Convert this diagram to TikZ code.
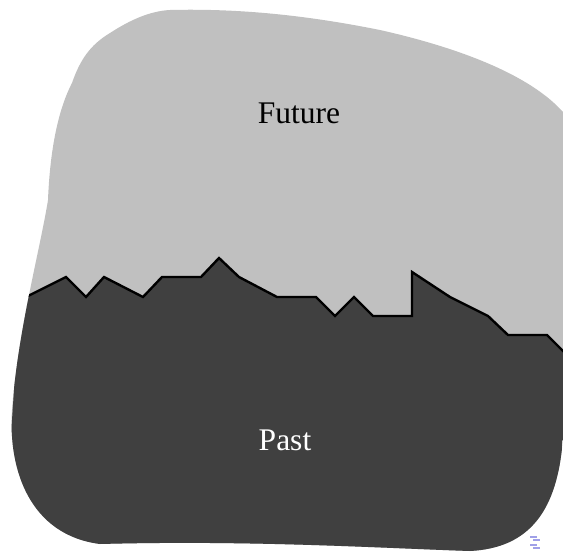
\documentclass[tikz,border=0pt]{standalone}
\usepackage{fontspec}
\setmainfont{Liberation Serif}
\usepackage{tikz}
\usetikzlibrary{positioning}
\definecolor{futuregray}{HTML}{C0C0C0}
\definecolor{pastgray}{HTML}{404040}
\definecolor{navblue}{HTML}{A0A0E8}

\begin{document}
\begin{tikzpicture}[
    x=1pt,y=-1pt,
    future/.style={fill=futuregray},
    past/.style={fill=pastgray},
    ridge/.style={draw=black,line width=2.4pt,line join=miter},
    label/.style={font=\fontsize{31.5}{38}\selectfont,anchor=base,inner sep=0pt},
    nav/.style={draw=navblue,line width=1.2pt}
  ]
    \useasboundingbox (0,0) rectangle (563,552);

    % the whole region
    \def\blob{(170,10) .. controls (250,8) and (320,18) .. (380,30)
      .. controls (460,48) and (530,75) .. (563,112) -- (563,437)
      .. controls (558,510) and (530,548) .. (470,551)
      .. controls (380,548) and (250,540) .. (100,544)
      .. controls (30,535) and (8,470) .. (12,410)
      .. controls (18,330) and (40,250) .. (48,200)
      .. controls (50,150) and (58,110) .. (72,83)
      .. controls (80,60) and (90,45) .. (110,33)
      .. controls (130,20) and (150,11) .. (170,10) -- cycle}
    \path[future] \blob;

    \begin{scope}
      \clip \blob;
      \path[past] (20,300) -- (66,277) -- (86,297) -- (104,277) -- (143,297)
        -- (162,277) -- (201,277) -- (219,258) -- (239,277) -- (277,297)
        -- (316,297) -- (335,316) -- (354,297) -- (373,316) -- (412,316)
        -- (412,272) -- (450,297) -- (488,316) -- (508,335) -- (547,335)
        -- (580,368) -- (580,600) -- (0,600) -- cycle;
      \draw[ridge] (20,300) -- (66,277) -- (86,297) -- (104,277) -- (143,297)
        -- (162,277) -- (201,277) -- (219,258) -- (239,277) -- (277,297)
        -- (316,297) -- (335,316) -- (354,297) -- (373,316) -- (412,316)
        -- (412,272) -- (450,297) -- (488,316) -- (508,335) -- (547,335)
        -- (580,368);
    \end{scope}

    \node[label] (futuretext) at (299,123) {Future};
    \node[label,text=white] (pasttext) at (285,450) {Past};

    % navigation symbol
    \draw[nav] (530,537) -- (537,537);
    \draw[nav] (533,540) -- (540,540);
    \draw[nav] (530,545) -- (537,545);
    \draw[nav] (533,548) -- (540,548);
  \end{tikzpicture}
\end{document}
